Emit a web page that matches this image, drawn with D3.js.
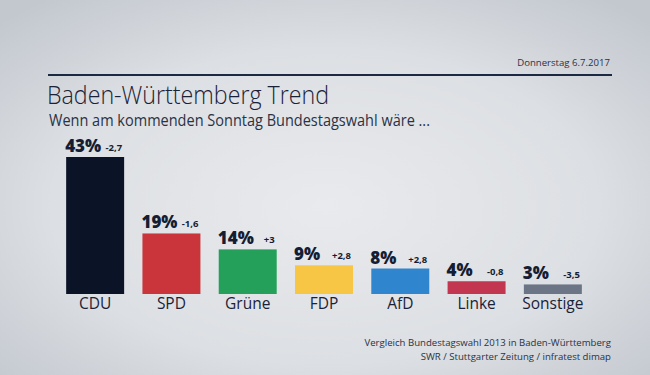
<!DOCTYPE html>
<html>
<head>
<meta charset="utf-8">
<script src="https://cdn.jsdelivr.net/npm/d3@7"></script>
<style>
  body { margin: 0; }
  svg text { font-family: "Open Sans", sans-serif; }
</style>
</head>
<body>
<div id="container"></div>
<script>
/* CONSTANTS AND GLOBALS */
const width = 650,
  height = 375;

// data
const parties = ["CDU", "SPD", "Grüne", "FDP", "AfD", "Linke", "Sonstige"];
const values = [43, 19, 14, 9, 8, 4, 3];
const changes = ["-2,7", "-1,6", "+3", "+2,8", "+2,8", "-0,8", "-3,5"];
const colors = ["#0b1427", "#c9353b", "#24a05b", "#f7c644", "#2f86cf", "#c3364f", "#6b7585"];

const dateLabel = "Donnerstag 6.7.2017";
const title = "Baden-Württemberg Trend";
const subtitle = "Wenn am kommenden Sonntag Bundestagswahl wäre ...";
const notes = ["Vergleich Bundestagswahl 2013 in Baden-Württemberg",
  "SWR / Stuttgarter Zeitung / infratest dimap"];

const data = parties.map((p, i) => ({ party: p, value: values[i], change: changes[i], color: colors[i] }));

const svg = d3.select("#container")
  .append("svg")
  .attr("width", width)
  .attr("height", height);

// background gradient
const defs = svg.append("defs");
const grad = defs.append("radialGradient")
  .attr("id", "bg")
  .attr("cx", "50%").attr("cy", "55%").attr("r", "70%");
grad.append("stop").attr("offset", "0%").attr("stop-color", "#e9eaed");
grad.append("stop").attr("offset", "60%").attr("stop-color", "#dcdfe3");
grad.append("stop").attr("offset", "100%").attr("stop-color", "#c3c8cf");

svg.append("rect")
  .attr("width", width)
  .attr("height", height)
  .attr("fill", "url(#bg)");

// header
svg.append("text")
  .attr("x", 610).attr("y", 66)
  .attr("text-anchor", "end")
  .attr("font-size", 9.6)
  .attr("fill", "#2a3245")
  .text(dateLabel);

svg.append("line")
  .attr("x1", 48).attr("x2", 612)
  .attr("y1", 75).attr("y2", 75)
  .attr("stroke", "#1c2942")
  .attr("stroke-width", 2);

svg.append("text")
  .attr("x", 47).attr("y", 104)
  .attr("font-size", 25)
  .attr("font-weight", 300)
  .attr("textLength", 282)
  .attr("lengthAdjust", "spacingAndGlyphs")
  .attr("fill", "#1a2238")
  .text(title);

svg.append("text")
  .attr("x", 49).attr("y", 126)
  .attr("font-size", 16)
  .attr("textLength", 381)
  .attr("lengthAdjust", "spacingAndGlyphs")
  .attr("fill", "#2a3245")
  .text(subtitle);

// scales
const xScale = d3.scaleBand()
  .domain(parties)
  .range([57, 591])
  .paddingInner(0.24)
  .paddingOuter(0.12);

const yScale = d3.scaleLinear()
  .domain([0, 43])
  .range([294, 157]);

// bars
svg.selectAll(".bar")
  .data(data)
  .join("rect")
  .attr("class", "bar")
  .attr("x", d => xScale(d.party))
  .attr("y", d => yScale(d.value))
  .attr("width", xScale.bandwidth())
  .attr("height", d => yScale(0) - yScale(d.value))
  .attr("fill", d => d.color);

// value labels
svg.selectAll(".val")
  .data(data)
  .join("text")
  .attr("class", "val")
  .attr("x", d => xScale(d.party) - 1)
  .attr("y", d => yScale(d.value) - 5)
  .attr("font-size", 17)
  .attr("font-weight", 800)
  .attr("fill", "#141d33")
  .text(d => d.value + "%");

svg.selectAll(".chg")
  .data(data)
  .join("text")
  .attr("class", "chg")
  .attr("x", d => xScale(d.party) + xScale.bandwidth() - 2)
  .attr("y", d => yScale(d.value) - 6)
  .attr("text-anchor", "end")
  .attr("font-size", 9.5)
  .attr("font-weight", 700)
  .attr("fill", "#141d33")
  .text(d => d.change);

// x axis labels
svg.selectAll(".cat")
  .data(data)
  .join("text")
  .attr("class", "cat")
  .attr("x", d => xScale(d.party) + xScale.bandwidth() / 2)
  .attr("y", 309)
  .attr("text-anchor", "middle")
  .attr("font-size", 15.5)
  .attr("fill", "#1a2238")
  .text(d => d.party);

// footnotes
svg.selectAll(".note")
  .data(notes)
  .join("text")
  .attr("class", "note")
  .attr("x", 611)
  .attr("y", (d, i) => 346 + i * 14)
  .attr("text-anchor", "end")
  .attr("font-size", 9.6)
  .attr("fill", "#2a3245")
  .text(d => d);
</script>
</body>
</html>
